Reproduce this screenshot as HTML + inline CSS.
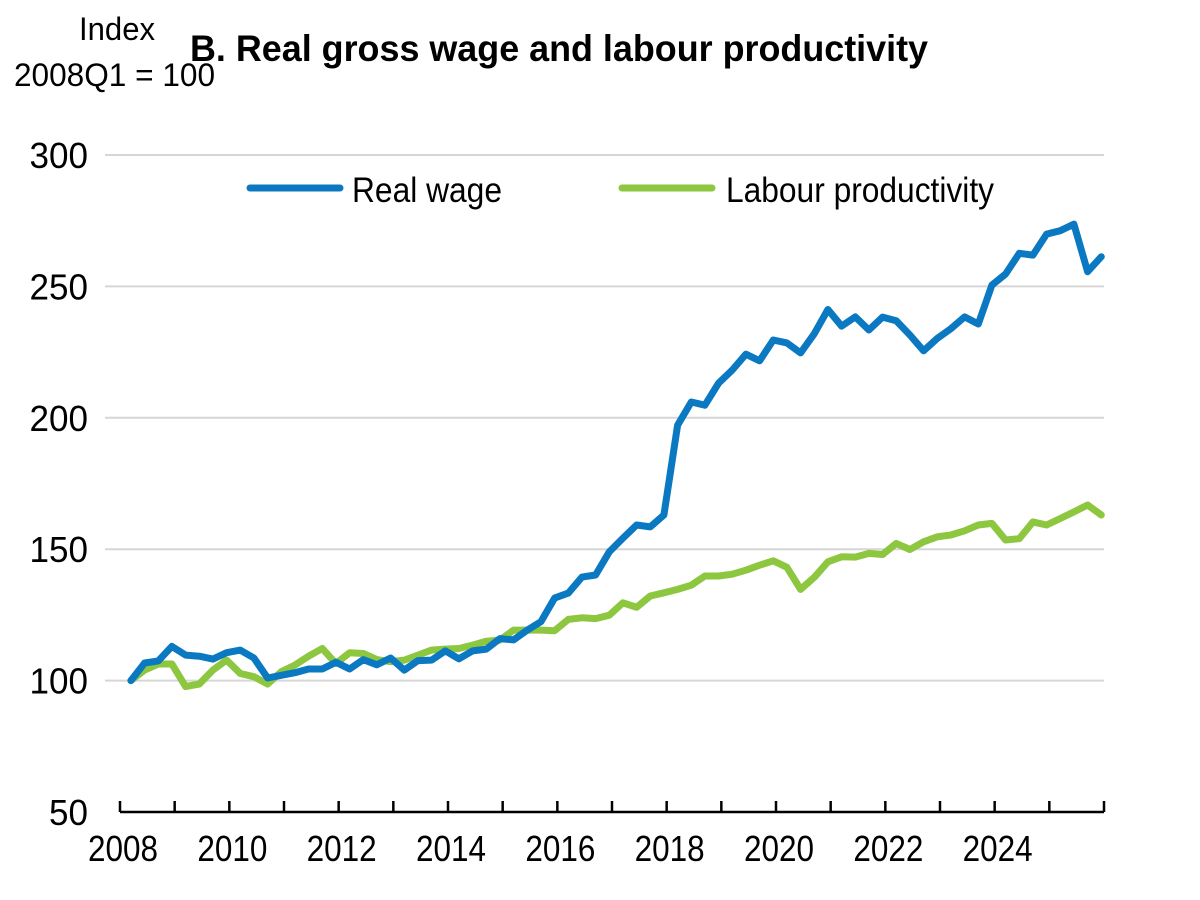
<!DOCTYPE html>
<html><head><meta charset="utf-8">
<style>
html,body{margin:0;padding:0;background:#fff;}
svg{display:block;font-family:"Liberation Sans",Arial,sans-serif;}
</style></head>
<body>
<svg id="chart" width="1200" height="900" viewBox="0 0 1200 900" xmlns="http://www.w3.org/2000/svg">
<rect width="1200" height="900" fill="#fff"/>
<text x="155" y="40" font-size="32" text-anchor="end" textLength="76" lengthAdjust="spacingAndGlyphs">Index</text>
<text x="14" y="86" font-size="32" textLength="201" lengthAdjust="spacingAndGlyphs">2008Q1 = 100</text>
<text x="190" y="61" font-size="37" font-weight="bold" textLength="738" lengthAdjust="spacingAndGlyphs">B. Real gross wage and labour productivity</text>
<g id="grid"></g>
<g id="yticks"></g>
<g id="xaxis"></g>
<g id="series"></g>
<g>
  <g>
    <line x1="250" y1="188" x2="340" y2="188" stroke="#0b78c2" stroke-width="7" stroke-linecap="round"/>
    <text x="352" y="202" font-size="35" textLength="150" lengthAdjust="spacingAndGlyphs">Real wage</text>
  </g>
  <g>
    <line x1="622" y1="188" x2="712" y2="188" stroke="#8dc63f" stroke-width="7" stroke-linecap="round"/>
    <text x="726" y="202" font-size="35" textLength="268" lengthAdjust="spacingAndGlyphs">Labour productivity</text>
  </g>
</g>
</svg>
<script>
const yTicks = [50, 100, 150, 200, 250, 300];
const xYears = [2008,2009,2010,2011,2012,2013,2014,2015,2016,2017,2018,2019,2020,2021,2022,2023,2024,2025,2026];
const xLabels = [2008,2010,2012,2014,2016,2018,2020,2022,2024];
const realWage = [100,106.7,107.5,113,109.7,109.3,108.2,110.6,111.6,108.6,101,102,103,104.4,104.4,107,104.4,108,106,108.6,104,107.6,107.8,111.3,108.3,111.3,112,116,115.5,119.2,122.4,131.4,133.3,139.4,140.2,
149,154.2,159.2,158.5,163,197.2,206,204.8,213.2,218.2,224.2,221.7,229.6,228.5,224.7,232,241.2,234.9,238.4,233.4,238.3,236.9,231.5,225.5,230.2,233.9,238.4,235.7,250.5,254.7,262.6,261.9,269.9,271.2,273.7,255.6,261.3];
const productivity = [100,104,106.3,106.3,97.7,98.7,104,107.8,102.7,101.5,98.7,103.4,105.9,109.3,112.2,106.5,110.6,110.3,108,107.2,107.8,109.7,111.6,112,112.2,113.5,115,115.4,119.2,119.2,119.2,119,123.3,123.9,123.6,
124.9,129.6,127.9,132.2,133.4,134.7,136.3,139.8,139.8,140.5,142,143.9,145.6,143.1,134.7,139.3,145.2,147.1,147,148.4,148,152.2,149.9,152.8,154.7,155.4,157,159.2,159.8,153.5,154,160.4,159.2,161.7,164.2,166.8,163];

const NS = "http://www.w3.org/2000/svg";
const X0 = 120, X1 = 1104, Y0 = 812, Y1 = 155;
const yScale = v => Y0 - (v - 50) / 250 * (Y0 - Y1);
const yearX = yr => X0 + (yr - 2008) / 18 * (X1 - X0);
const qX = i => yearX(2008 + (i + 0.8) / 4);
function mk(tag, attrs, parent) { const e = document.createElementNS(NS, tag); for (const k in attrs) e.setAttribute(k, attrs[k]); parent.appendChild(e); return e; }

const grid = document.getElementById('grid'), yt = document.getElementById('yticks'), xa = document.getElementById('xaxis'), ser = document.getElementById('series');
yTicks.forEach(v => {
  if (v > 50) {
    const l = mk('line', {x1: 105, x2: X1, y1: yScale(v), y2: yScale(v), stroke: '#d6d6d6', 'stroke-width': 2}, grid);
    
    
  }
  const s = String(v);
  const t = mk('text', {x: 88, y: yScale(v) + 13, 'font-size': 36, 'text-anchor': 'end', textLength: s.length * 19.5, lengthAdjust: 'spacingAndGlyphs'}, yt);
  t.textContent = v;
  
  
});
const axis = mk('line', {x1: X0, x2: X1, y1: Y0, y2: Y0, stroke: '#000', 'stroke-width': 2.5}, xa);


xYears.forEach(yr => {
  const tk = mk('line', {x1: yearX(yr), x2: yearX(yr), y1: Y0, y2: Y0 - 11, stroke: '#000', 'stroke-width': 2.5}, xa);
  
  
});
xLabels.forEach(yr => {
  const t = mk('text', {x: yearX(yr) + 3, y: 861, 'font-size': 36, 'text-anchor': 'middle', textLength: 70, lengthAdjust: 'spacingAndGlyphs'}, xa);
  t.textContent = yr;
  
  
});
function line(data, color, name) {
  const d = data.map((v, i) => (i ? 'L' : 'M') + qX(i).toFixed(1) + ',' + yScale(v).toFixed(1)).join(' ');
  const p = mk('path', {d: d, fill: 'none', stroke: color, 'stroke-width': 7, 'stroke-linejoin': 'round', 'stroke-linecap': 'round'}, ser);
  
  
}
line(productivity, '#8dc63f', 'labour-productivity-line');
line(realWage, '#0b78c2', 'real-wage-line');
</script>
</body></html>
